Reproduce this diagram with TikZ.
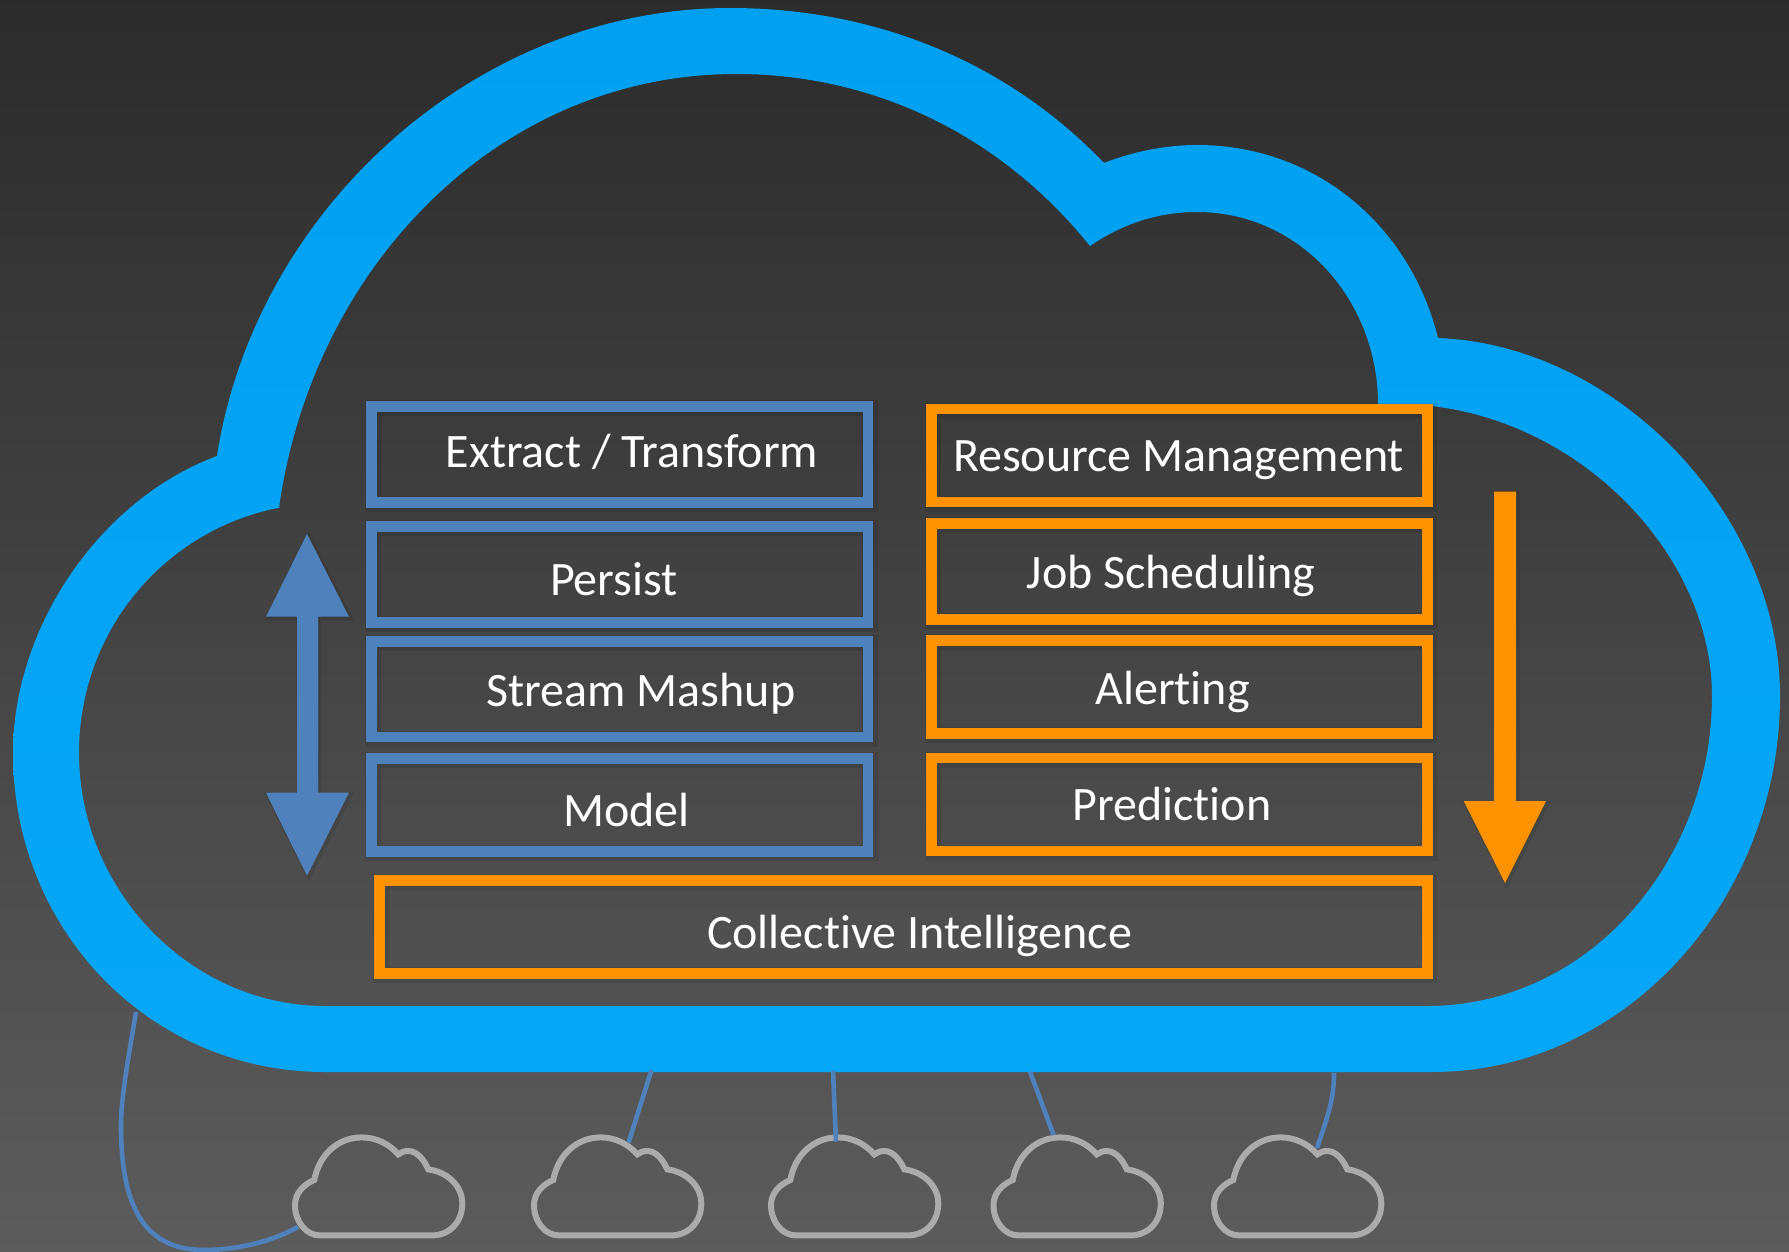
\documentclass[tikz,border=0pt]{standalone}
\usepackage{fontspec}
\setmainfont{Carlito}[Ligatures=NoCommon]
\definecolor{skytop}{HTML}{02A0F0}
\definecolor{skybot}{HTML}{07A7F7}
\definecolor{blueb}{HTML}{4F81BD}
\definecolor{orangeb}{HTML}{FF9200}
\definecolor{greyc}{HTML}{ABABAB}
\tikzset{
  every picture/.append style={x=0.5pt,y=-0.5pt},
  softshadow/.style={preaction={draw=black,draw opacity=.09,line width=#1,transform canvas={shift={(.8pt,-.8pt)}}}},
  boxblue/.style={draw=blueb,line width=5.35pt,softshadow=8pt},
  boxorange/.style={draw=orangeb,line width=5.35pt,softshadow=8pt},
  arrowblue/.style={fill=blueb,softshadow=2pt},
  arroworange/.style={fill=orangeb,softshadow=2pt},
  label/.style={text=white,font=\fontsize{24}{28}\selectfont,anchor=base,inner sep=0pt},
  wire/.style={draw=blueb,line width=2.3pt},
  smallcloud/.pic={
    \draw[greyc,line width=3pt] (28,-3.3) -- (139.7,-3.3)
      .. controls (158,-3.3) and (170.3,-17) .. (170.3,-35.3)
      .. controls (170.3,-53) and (155,-67) .. (136.3,-69.3)
      .. controls (132,-79) and (125,-87.7) .. (116.3,-87.7)
      .. controls (112,-87.7) and (109,-86.5) .. (106.3,-84.3)
      .. controls (97,-95) and (84,-101.3) .. (69.7,-101.3)
      .. controls (46,-101.3) and (27,-84) .. (22.3,-58.7)
      .. controls (11,-54) and (3,-45) .. (3,-33.7)
      .. controls (3,-17) and (14,-3.3) .. (28,-3.3) -- cycle;
  }
}
\begin{document}
\begin{tikzpicture}
\useasboundingbox (0,0) rectangle (1789,1252);
\shade[top color=black!83,bottom color=black!64] (0,0) rectangle (1789,1252);
% big cloud
\shade[top color=skytop,bottom color=skybot,even odd rule]
  (325,1072)
  .. controls (150,1072) and (13,930) .. (13,753)
  .. controls (13,628) and (99,500) .. (217,456)
  .. controls (255,210) and (476,8) .. (730,8)
  .. controls (880,8) and (1010,65) .. (1104,163)
  .. controls (1132,152) and (1165,145) .. (1197,145)
  .. controls (1315,145) and (1410,225) .. (1438,338)
  .. controls (1618,345) and (1780,515) .. (1780,696)
  .. controls (1780,900) and (1625,1072) .. (1432,1072)
  -- cycle
  (325,1006)
  .. controls (190,1006) and (79,890) .. (79,753)
  .. controls (79,630) and (165,530) .. (279,507.7)
  .. controls (313,265) and (500,74) .. (736,74)
  .. controls (880,74) and (1005,140) .. (1090,246)
  .. controls (1122,224) and (1158,212) .. (1197,212)
  .. controls (1300,212) and (1378,300) .. (1378,404)
  -- (1400,404)
  .. controls (1570,406) and (1712,550) .. (1712,696)
  .. controls (1712,860) and (1590,1006) .. (1427,1006)
  -- cycle;
% small clouds
\pic at (292,1238.7) {smallcloud};
\pic at (531,1238.7) {smallcloud};
\pic at (768,1238.7) {smallcloud};
\pic at (990.5,1238.7) {smallcloud};
\pic at (1211,1238.7) {smallcloud};
% connector ends
\coordinate (b1) at (136,1012);
\coordinate (s1) at (298,1227);
\coordinate (b2) at (651.5,1070);
\coordinate (s2) at (628.5,1142.7);
\coordinate (b3) at (833,1070.7);
\coordinate (s3) at (836,1141.7);
\coordinate (b4) at (1030,1071.7);
\coordinate (s4) at (1053.6,1135);
\coordinate (b5) at (1334,1072.7);
\coordinate (s5) at (1317,1148);
\draw[wire] (b1) .. controls (127,1065) and (121,1100) .. (121,1125)
  .. controls (121,1200) and (140,1250) .. (204,1250)
  .. controls (240,1250) and (275,1240) .. (s1);
\draw[wire] (b2) -- (s2);
\draw[wire] (b3) -- (s3);
\draw[wire] (b4) -- (s4);
\draw[wire] (b5) .. controls (1334,1100) and (1328,1115) .. (s5);
% blue boxes
\draw[boxblue] (371.5,406.7) rectangle (868,502.4);
\draw[boxblue] (371.5,526.4) rectangle (868,622.4);
\draw[boxblue] (371.5,641.4) rectangle (868,737);
\draw[boxblue] (371.5,758.4) rectangle (868,851.6);
% orange boxes
\draw[boxorange] (931.3,409) rectangle (1427.8,502);
\draw[boxorange] (931.3,523.6) rectangle (1427.8,619.7);
\draw[boxorange] (931.3,640.6) rectangle (1427.8,733.7);
\draw[boxorange] (931.3,758) rectangle (1427.8,851);
\draw[boxorange] (379.5,880.6) rectangle (1427.8,973.5);
% arrows
\fill[arrowblue] (307,534) -- (349,616.7) -- (318,616.7) -- (318,792.7) -- (349,792.7)
  -- (307,875.7) -- (266,792.7) -- (297,792.7) -- (297,616.7) -- (266,616.7) -- cycle;
\fill[arroworange] (1494,491.5) -- (1516,491.5) -- (1516,801) -- (1546,801)
  -- (1505,883) -- (1463.7,801) -- (1494,801) -- cycle;
% labels
\node[label] (t1) at (632,467) {Extract / Transform};
\node[label] (t2) at (614,595) {Persist};
\node[label] (t3) at (641,706) {Stream Mashup};
\node[label] (t4) at (626.5,826) {Model};
\node[label] (t5) at (1178.5,471.7) {Resource Management};
\node[label] (t6) at (1171,588.5) {Job Scheduling};
\node[label] (t7) at (1172.5,704) {Alerting};
\node[label] (t8) at (1172,820.5) {Prediction};
\node[label] (t9) at (919.5,948.5) {Collective Intelligence};
\end{tikzpicture}
\end{document}
